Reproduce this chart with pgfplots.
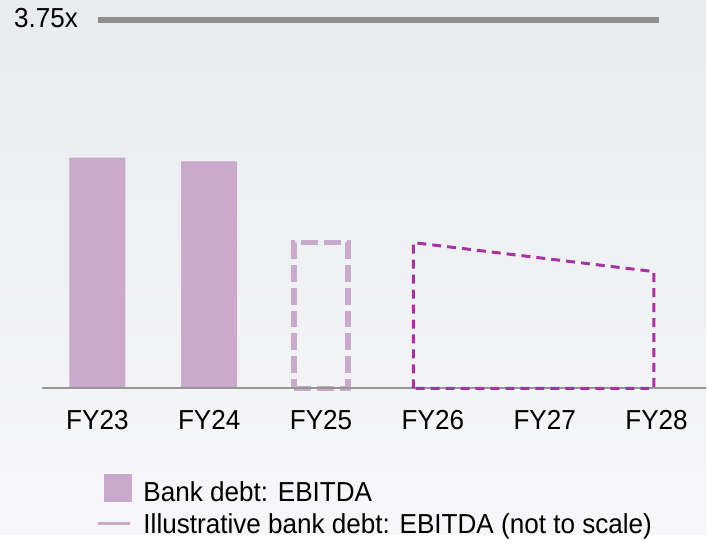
\documentclass[border=0pt]{standalone}
\usepackage{pgfplots}
\pgfplotsset{compat=1.18}
\usepackage{fontspec}
\setmainfont{Liberation Sans}[FakeStretch=0.95]
\definecolor{barpurple}{RGB}{201,170,204}
\definecolor{dashmag}{RGB}{165,52,160}
\definecolor{refgray}{RGB}{142,142,142}
\definecolor{basegray}{RGB}{150,150,150}
\definecolor{bgtop}{RGB}{233,235,238}
\definecolor{bgbot}{RGB}{247,247,249}
\begin{document}
\begin{tikzpicture}
\begin{axis}[
  scale only axis, width=707pt, height=535pt,
  xmin=-0.8705, xmax=5.442, ymin=-1.484, ymax=3.953,
  hide axis, clip=false,
  font=\fontsize{27.5}{32}\selectfont,
  legend style={at={(axis cs:-0.0134,-0.864)}, anchor=north west, draw=none, fill=none,
    font=\fontsize{27.5}{32}\selectfont, inner sep=0pt, row sep=4pt,
    nodes={inner sep=0pt, text height=21pt, text depth=7pt}},
  legend cell align=left,
]
\shade[top color=bgtop, bottom color=bgbot] (axis cs:-0.8705,-1.484) rectangle (axis cs:5.442,3.953);
% reference 3.75x line
\addplot[refgray, line width=6.7pt, forget plot] coordinates {(0.0045,3.75) (5.02,3.75)};
% actual bars
\addplot[ybar, bar width=0.5, bar shift=0pt, fill=barpurple, draw=none, forget plot]
  coordinates {(0,2.35) (1,2.31)};
% FY25 dashed bar
\addplot[ybar, bar width=0.482, bar shift=0pt, fill=none, draw=barpurple, line width=5.5pt,
  dash pattern=on 17pt off 6pt, forget plot] coordinates {(2,1.484)};
% baseline
\addplot[basegray, line width=2pt, forget plot] coordinates {(-0.4955,0) (5.442,0)};
% illustrative trapezoid FY26-FY28
\addplot[dashmag, line width=3pt, dash pattern=on 9pt off 6pt, forget plot]
  coordinates {(2.826,0) (2.826,1.484) (4.975,1.189) (4.975,0) (2.826,0)};
\node[anchor=base west, inner sep=0pt] at (axis cs:-0.7455,3.669) {3.75x};
\node[anchor=base, inner sep=0pt] at (axis cs:0,-0.4167) {FY23};
\node[anchor=base, inner sep=0pt] at (axis cs:1,-0.4167) {FY24};
\node[anchor=base, inner sep=0pt] at (axis cs:2,-0.4167) {FY25};
\node[anchor=base, inner sep=0pt] at (axis cs:3,-0.4167) {FY26};
\node[anchor=base, inner sep=0pt] at (axis cs:4,-0.4167) {FY27};
\node[anchor=base, inner sep=0pt] at (axis cs:5,-0.4167) {FY28};
\addlegendimage{legend image code/.code={\path[draw=none,fill=none] (0pt,0pt) -- (46pt,0pt);\fill[barpurple] (7pt,-7pt) rectangle (34pt,21pt);}}
\addlegendentry{Bank debt: EBITDA}
\addlegendimage{legend image code/.code={\path[draw=none,fill=none] (0pt,0pt) -- (46pt,0pt);\draw[barpurple, line width=3pt] (0pt,3pt) -- (32pt,3pt);}}
\addlegendentry{Illustrative bank debt: EBITDA (not to scale)}
\end{axis}
\end{tikzpicture}
\end{document}
